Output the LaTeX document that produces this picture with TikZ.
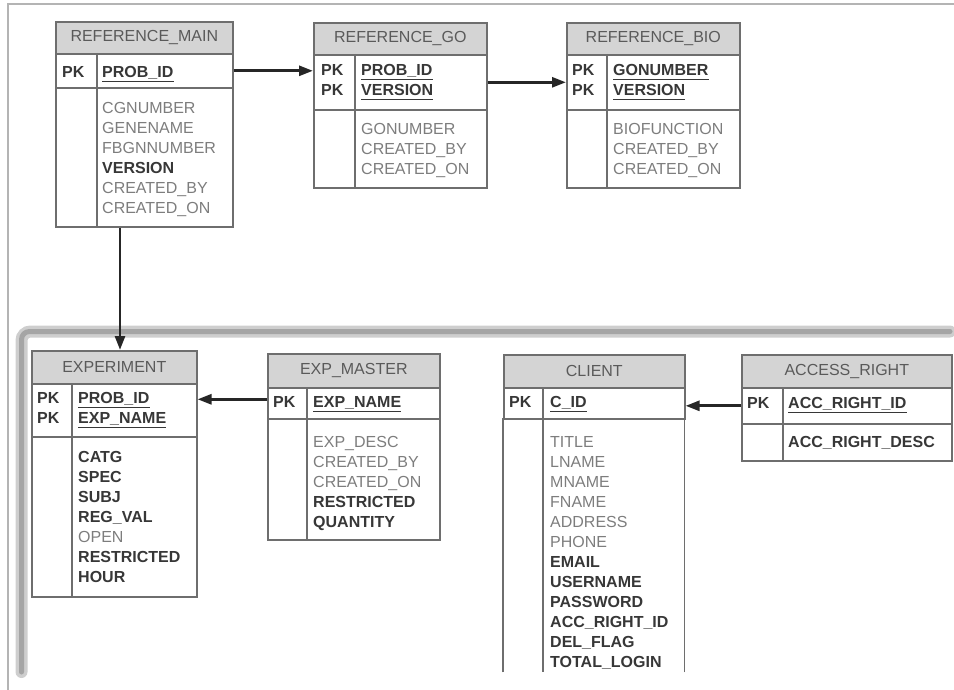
\documentclass[tikz,border=0pt]{standalone}
\usepackage{fontspec}
\setmainfont{Liberation Sans}
\usetikzlibrary{arrows.meta,positioning}
\definecolor{edge}{RGB}{110,110,110}
\definecolor{headfill}{RGB}{212,212,212}
\definecolor{headink}{RGB}{90,90,90}
\definecolor{faint}{RGB}{125,125,125}
\definecolor{ink}{RGB}{55,55,55}
\definecolor{frame}{RGB}{180,180,180}
\definecolor{band}{RGB}{165,165,165}
\newcommand{\tabfont}{\fontsize{16}{20}\selectfont}
\newcommand{\hot}[1]{{\bfseries\color{ink}#1}}
\tikzset{
  tabhead/.style={draw=edge, fill=headfill, line width=1.6pt, anchor=north west, inner sep=0pt, text=headink},
  tabrow/.style={draw=edge, line width=1.6pt, anchor=north west, inner sep=0pt},
  tabline/.style={draw=edge, line width=1.6pt},
  field/.style={anchor=west, inner sep=0pt, text height=11.5pt, text depth=0pt, text=faint},
  pk/.style={field, text=ink, font=\tabfont\bfseries},
  keyline/.style={draw=ink, line width=0.9pt},
  keyfield/.style={pk, append after command={([yshift=-3.5pt]\tikzlastnode.south west) edge[keyline] ([yshift=-3.5pt]\tikzlastnode.south east)}},
  link/.style={draw=black!85, line width=2.8pt, -{Triangle[length=14pt,width=10pt]}}
}
\begin{document}
\begin{tikzpicture}[x=1pt, y=-1pt, font=\tabfont]
  \useasboundingbox (0,0) rectangle (954,690);
  % frames
  \draw[frame, line width=2pt] (7.5,690) -- (7.5,4) -- (954,4);
  \draw[band!55, line width=12pt, rounded corners=9pt, line cap=round] (21.5,672) -- (21.5,331.5) -- (950,331.5);
  \draw[band, line width=5pt, rounded corners=8pt, line cap=round] (21.5,672) -- (21.5,331.5) -- (950,331.5);

  % REFERENCE_MAIN
  \node[tabhead, minimum width=177pt, minimum height=32pt] (mainhead) at (55,21) {REFERENCE\_MAIN};
  \node[tabrow, minimum width=177pt, minimum height=34pt] (mainkey) at (55,53) {};
  \node[tabrow, minimum width=177pt, minimum height=139pt] (mainbody) at (55,87) {};
  \draw[tabline] ([xshift=42pt]mainkey.north west) -- ([xshift=42pt]mainbody.south west);
  \node[pk] (mainpk) at (62,72) {PK};
  \node[keyfield] (mainid) at (102,72) {PROB\_ID};
  \foreach \f [count=\i] in {CGNUMBER, GENENAME, FBGNNUMBER, \hot{VERSION}, CREATED\_BY, CREATED\_ON}
    \node[field] (main-\i) at (102,88+20*\i) {\f};

  % REFERENCE_GO
  \node[tabhead, minimum width=173pt, minimum height=32pt] (gohead) at (313,22) {REFERENCE\_GO};
  \node[tabrow, minimum width=173pt, minimum height=55pt] (gokey) at (313,54) {};
  \node[tabrow, minimum width=173pt, minimum height=78pt] (gobody) at (313,109) {};
  \draw[tabline] ([xshift=42pt]gokey.north west) -- ([xshift=42pt]gobody.south west);
  \node[pk] (gopk1) at (321,70) {PK};
  \node[pk] (gopk2) at (321,90) {PK};
  \node[keyfield] (goid) at (361,70) {PROB\_ID};
  \node[keyfield] (gover) at (361,90) {VERSION};
  \foreach \f [count=\i] in {GONUMBER, CREATED\_BY, CREATED\_ON}
    \node[field] (go-\i) at (361,109+20*\i) {\f};

  % REFERENCE_BIO
  \node[tabhead, minimum width=173pt, minimum height=32pt] (biohead) at (566,22) {REFERENCE\_BIO};
  \node[tabrow, minimum width=173pt, minimum height=55pt] (biokey) at (566,54) {};
  \node[tabrow, minimum width=173pt, minimum height=78pt] (biobody) at (566,109) {};
  \draw[tabline] ([xshift=41pt]biokey.north west) -- ([xshift=41pt]biobody.south west);
  \node[pk] (biopk1) at (572,70) {PK};
  \node[pk] (biopk2) at (572,90) {PK};
  \node[keyfield] (biogo) at (613,70) {GONUMBER};
  \node[keyfield] (biover) at (613,90) {VERSION};
  \foreach \f [count=\i] in {BIOFUNCTION, CREATED\_BY, CREATED\_ON}
    \node[field] (bio-\i) at (613,109+20*\i) {\f};

  % EXPERIMENT
  \node[tabhead, minimum width=165pt, minimum height=33pt] (exphead) at (31,350) {EXPERIMENT};
  \node[tabrow, minimum width=165pt, minimum height=53pt] (expkey) at (31,383) {};
  \node[tabrow, minimum width=165pt, minimum height=160pt] (expbody) at (31,436) {};
  \draw[tabline] ([xshift=41pt]expkey.north west) -- ([xshift=41pt]expbody.south west);
  \node[pk] (exppk1) at (37,398) {PK};
  \node[pk] (exppk2) at (37,418) {PK};
  \node[keyfield] (expid) at (78,398) {PROB\_ID};
  \node[keyfield] (expname) at (78,418) {EXP\_NAME};
  \foreach \f [count=\i] in {\hot{CATG}, \hot{SPEC}, \hot{SUBJ}, \hot{REG\_VAL}, OPEN, \hot{RESTRICTED}, \hot{HOUR}}
    \node[field] (exp-\i) at (78,437+20*\i) {\f};

  % EXP_MASTER
  \node[tabhead, minimum width=172pt, minimum height=34pt] (masthead) at (267,353) {EXP\_MASTER};
  \node[tabrow, minimum width=172pt, minimum height=31pt] (mastkey) at (267,387) {};
  \node[tabrow, minimum width=172pt, minimum height=121pt] (mastbody) at (267,418) {};
  \draw[tabline] ([xshift=40pt]mastkey.north west) -- ([xshift=40pt]mastbody.south west);
  \node[pk] (mastpk) at (273,402) {PK};
  \node[keyfield] (mastname) at (313,402) {EXP\_NAME};
  \foreach \f [count=\i] in {EXP\_DESC, CREATED\_BY, CREATED\_ON, \hot{RESTRICTED}, \hot{QUANTITY}}
    \node[field] (mast-\i) at (313,422+20*\i) {\f};

  % CLIENT (runs off the bottom)
  \node[tabhead, minimum width=181pt, minimum height=33pt] (clienthead) at (503,354) {CLIENT};
  \node[tabrow, minimum width=181pt, minimum height=31pt] (clientkey) at (503,387) {};
  \node[anchor=north west, inner sep=0pt, minimum width=181pt, minimum height=254pt] (clientbody) at (503,418) {};
  \draw[tabline] (clientbody.south west) -- (clientbody.north west);
  \draw[tabline] (clientbody.south east) -- (clientbody.north east);
  \draw[tabline] ([xshift=40pt]clientkey.north west) -- ([xshift=40pt]clientbody.south west);
  \node[pk] (clientpk) at (509,402) {PK};
  \node[keyfield] (clientid) at (550,402) {C\_ID};
  \foreach \f [count=\i] in {TITLE, LNAME, MNAME, FNAME, ADDRESS, PHONE, \hot{EMAIL}, \hot{USERNAME}, \hot{PASSWORD}, \hot{ACC\_RIGHT\_ID}, \hot{DEL\_FLAG}, \hot{TOTAL\_LOGIN}}
    \node[field] (client-\i) at (550,422+20*\i) {\f};

  % ACCESS_RIGHT
  \node[tabhead, minimum width=210pt, minimum height=33pt] (acchead) at (741,354) {ACCESS\_RIGHT};
  \node[tabrow, minimum width=210pt, minimum height=36pt] (acckey) at (741,387) {};
  \node[tabrow, minimum width=210pt, minimum height=37pt] (accbody) at (741,423) {};
  \draw[tabline] ([xshift=42pt]acckey.north west) -- ([xshift=42pt]accbody.south west);
  \node[pk] (accpk) at (747,403) {PK};
  \node[keyfield] (accid) at (788,403) {ACC\_RIGHT\_ID};
  \node[field] (accdesc) at (788,442) {\hot{ACC\_RIGHT\_DESC}};

  % links
  \draw[link] (mainkey.east) -- (mainkey.east -| gokey.west);
  \draw[link] (gokey.east) -- (gokey.east -| biokey.west);
  \draw[link] ([xshift=65pt]mainbody.south west) coordinate (drop) -- (drop |- exphead.north);
  \draw[link] ([yshift=4pt]mastkey.west) coordinate (mastout) -- (mastout -| expkey.east);
  \draw[link] (acckey.west) -- (acckey.west -| clientkey.east);
\end{tikzpicture}
\end{document}
